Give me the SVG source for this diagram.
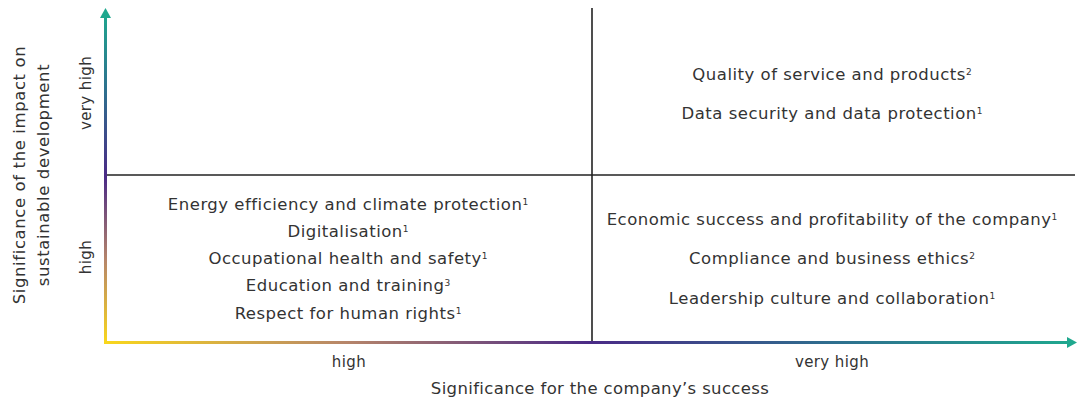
<svg xmlns="http://www.w3.org/2000/svg" width="1078" height="403" viewBox="0 0 1078 403">
<style>
.t{font-family:"DejaVu Sans","Open Sans",sans-serif;font-size:16.5px;letter-spacing:0.5px;fill:#333;text-anchor:middle}
.s{font-size:9px;letter-spacing:0;baseline-shift:5px}
.a{font-family:"DejaVu Sans","Open Sans",sans-serif;font-size:15px;letter-spacing:0.4px;fill:#333;text-anchor:middle}
.at{font-family:"DejaVu Sans","Open Sans",sans-serif;font-size:16.5px;letter-spacing:0.35px;fill:#333;text-anchor:middle}
.av{letter-spacing:0.6px}
.div{stroke:#222;stroke-width:1.6;fill:none}
</style>
<defs>
<linearGradient id="gv" gradientUnits="userSpaceOnUse" x1="0" y1="343" x2="0" y2="10">
<stop offset="0" stop-color="#f9d71c"/>
<stop offset="0.25" stop-color="#b6856a"/>
<stop offset="0.5" stop-color="#4a2a86"/>
<stop offset="0.75" stop-color="#2e6e8e"/>
<stop offset="1" stop-color="#1fa88e"/>
</linearGradient>
<linearGradient id="gh" gradientUnits="userSpaceOnUse" x1="104" y1="0" x2="1075" y2="0">
<stop offset="0" stop-color="#f9d71c"/>
<stop offset="0.25" stop-color="#b6856a"/>
<stop offset="0.5" stop-color="#4a2a86"/>
<stop offset="0.75" stop-color="#2e6e8e"/>
<stop offset="1" stop-color="#1fa88e"/>
</linearGradient>
</defs>
<g id="connectors">
<line class="div" x1="592" y1="8" x2="592" y2="342"/>
<line class="div" x1="105" y1="175" x2="1075" y2="175"/>
<rect x="104" y="16" width="3" height="327" fill="url(#gv)"/>
<rect x="104" y="341" width="964" height="3" fill="url(#gh)"/>
<polygon points="105.5,8 100,18 111,18" fill="#1fa88e"/>
<polygon points="1077,342.5 1067,337 1067,348" fill="#1fa88e"/>
</g>
<g id="axis-x">
<text class="a" x="349" y="367">high</text>
<text class="a" x="832" y="367">very high</text>
<text class="at" x="600" y="394">Significance for the company’s success</text>
</g>
<g id="axis-y">
<text class="at av" transform="translate(24.5,175) rotate(-90)">Significance of the impact on</text>
<text class="at av" transform="translate(48.5,175) rotate(-90)">sustainable development</text>
<text class="a" transform="translate(91,93) rotate(-90)">very high</text>
<text class="a" transform="translate(91,257) rotate(-90)">high</text>
</g>
<g id="q-top-right">
<text class="t" x="832" y="80">Quality of service and products<tspan class="s">2</tspan></text>
<text class="t" x="832" y="119">Data security and data protection<tspan class="s">1</tspan></text>
</g>
<g id="q-bottom-left">
<text class="t" x="348" y="210">Energy efficiency and climate protection<tspan class="s">1</tspan></text>
<text class="t" x="348" y="237">Digitalisation<tspan class="s">1</tspan></text>
<text class="t" x="348" y="264">Occupational health and safety<tspan class="s">1</tspan></text>
<text class="t" x="348" y="291">Education and training<tspan class="s">3</tspan></text>
<text class="t" x="348" y="319">Respect for human rights<tspan class="s">1</tspan></text>
</g>
<g id="q-bottom-right">
<text class="t" x="832" y="225">Economic success and profitability of the company<tspan class="s">1</tspan></text>
<text class="t" x="832" y="264">Compliance and business ethics<tspan class="s">2</tspan></text>
<text class="t" x="832" y="304">Leadership culture and collaboration<tspan class="s">1</tspan></text>
</g>
</svg>
